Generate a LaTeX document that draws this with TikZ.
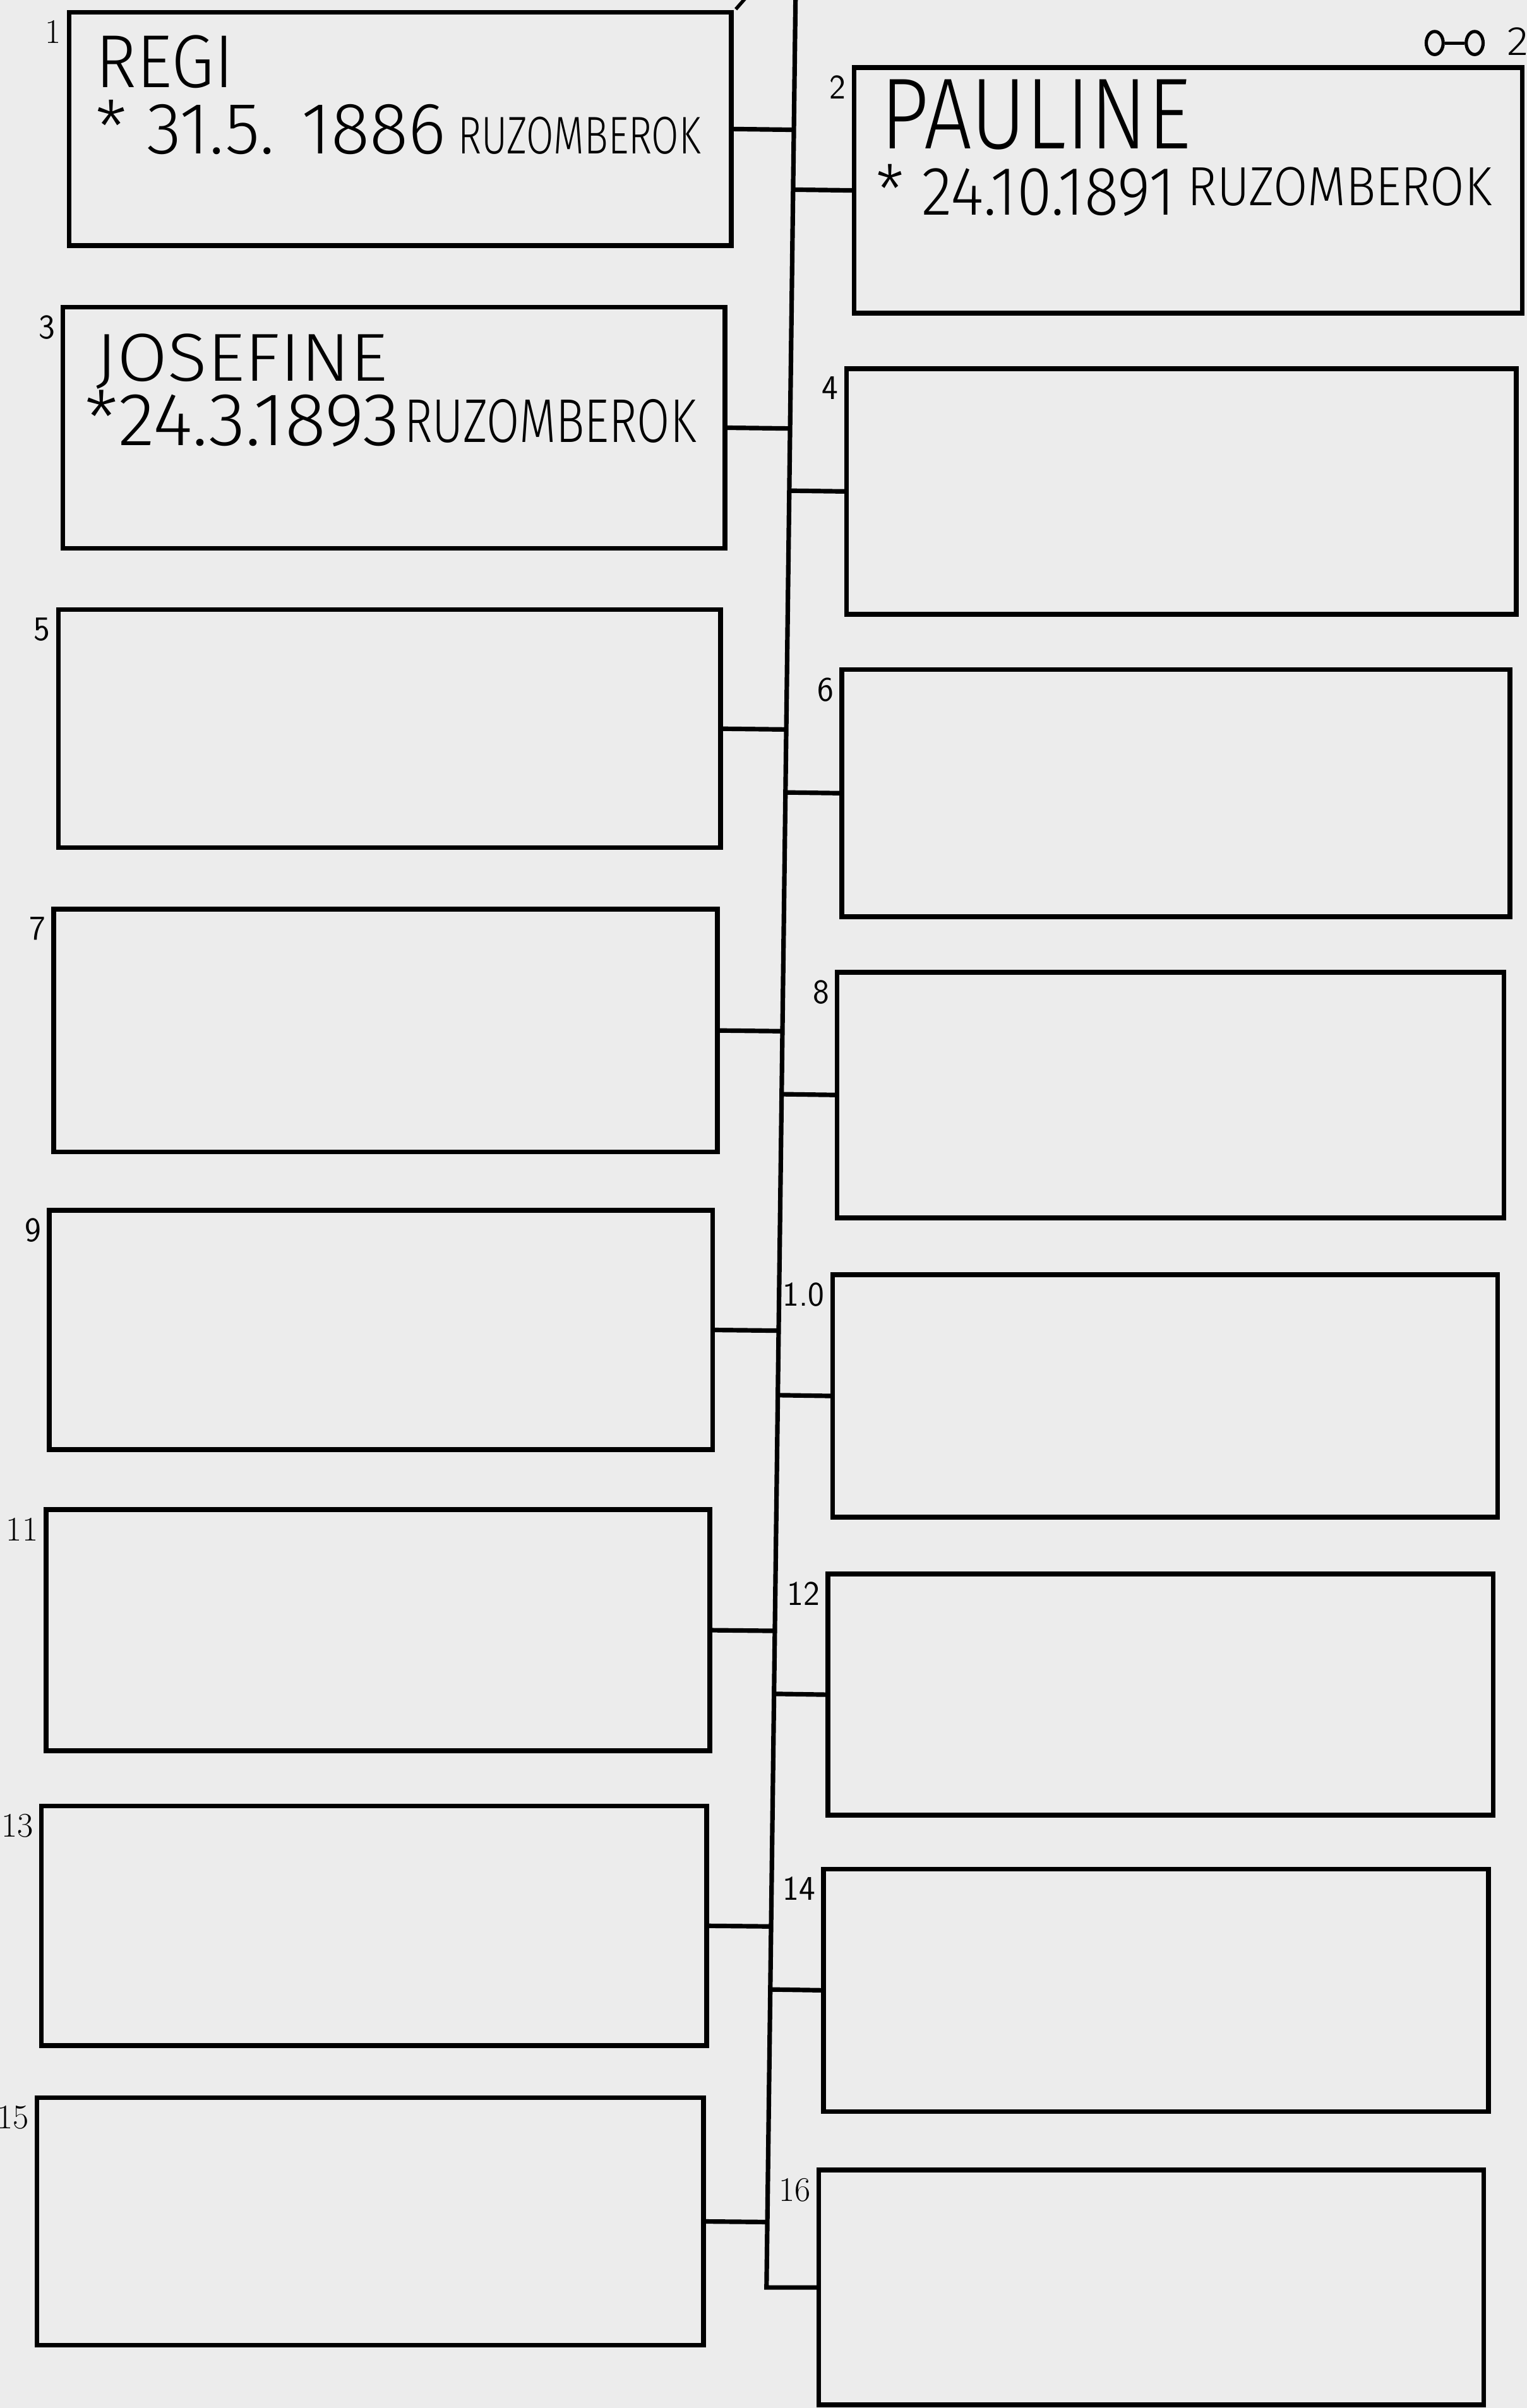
\documentclass[tikz,border=0pt]{standalone}
\usepackage{fontspec}
\usepackage{graphicx}
\newfontfamily\handfont{Fira Sans}[UprightFont={* Light}]
\usetikzlibrary{calc,shapes.geometric}
\definecolor{paper}{RGB}{236,236,236}
\newlength\hwu
\setlength\hwu{0.025cm}
\newcommand\twolines[3]{\vtop{\baselineskip=#1\lineskiplimit=-100pt\lineskip=0pt\hbox{#2}\hbox{#3}}}
\begin{document}
\begin{tikzpicture}[x=0.025cm,y=-0.025cm,
  famb/.style 2 args={draw=black, line width=2.2pt, minimum width=#1*0.025cm, minimum height=#2*0.025cm, inner sep=0pt, outer sep=0pt},
  num/.style={font=\fontsize{16}{18}\selectfont, inner sep=0pt, anchor=north east},
  link/.style={draw=black, line width=2.1pt},
  hw/.style={inner sep=0pt, anchor=base west, font=\handfont\fontsize{30}{30}\selectfont},
  ring/.style={ellipse, draw=black, line width=1.5pt, minimum width=11*0.025cm, minimum height=15*0.025cm, inner sep=0pt}]
\fill[paper] (0,0) rectangle (994,1568);
\useasboundingbox (0,0) rectangle (994,1568);

% left column
\node[famb={431}{152}] (b1) at (260.5,84) {};
\node[famb={431}{157}] (b3) at (256.5,278.5) {};
\node[famb={431}{155}] (b5) at (253.5,474.5) {};
\node[famb={432}{158}] (b7) at (251,671) {};
\node[famb={432}{156}] (b9) at (248,866) {};
\node[famb={432}{157}] (b11) at (246,1061.5) {};
\node[famb={433}{156}] (b13) at (243.5,1254) {};
\node[famb={434}{161}] (b15) at (241,1446.5) {};
% right column
\node[famb={435}{160}] (b2) at (773.5,124) {};
\node[famb={436}{160}] (b4) at (769,320) {};
\node[famb={435}{161}] (b6) at (765.5,516.5) {};
\node[famb={434}{160}] (b8) at (762,713) {};
\node[famb={433}{158}] (b10) at (758.5,909) {};
\node[famb={433}{157}] (b12) at (755.5,1103.5) {};
\node[famb={433}{158}] (b14) at (752.5,1296) {};
\node[famb={433}{153}] (b16) at (749.5,1489.5) {};

% trunk
\coordinate (tt) at (518,-10);
\coordinate (tb) at (499,1489.5);
\draw[link] (tt) -- (tb) -- (b16.west);
\foreach \b in {b1,b3,b5,b7,b9,b11,b13,b15}
  \draw[link] (\b.east) -- ($(tt)!(\b.east)!(tb)$);
\foreach \b in {b2,b4,b6,b8,b10,b12,b14}
  \draw[link] ($(tt)!(\b.west)!(tb)$) -- (\b.west);

% small stroke above box 1
\coordinate (tk) at ([shift={(3,-2)}]b1.north east);
\draw[line width=1.6pt] (tk) -- ++(7,-8);

% numbers
\foreach \n/\t/\f in {1/1/\rmfamily,2/2/\sffamily,3/3/\sffamily,4/4/\sffamily,5/5/\sffamily,6/6/\sffamily,7/7/\sffamily,8/8/\sffamily,9/9/\sffamily,10/1.0/\sffamily,11/11/\rmfamily,12/12/\sffamily,13/13/\rmfamily,14/14/\sffamily,15/15/\rmfamily,16/16/\rmfamily}
  \node[num] (l\n) at ([shift={(-5,5)}]b\n.north west) {\f\t};

% handwritten entries
\node[hw] (e1) at (62,57) {\twolines{43\hwu}{\resizebox{90\hwu}{34\hwu}{REGI}}{\resizebox{228\hwu}{35\hwu}{* 31.5. 1886}\hspace{8\hwu}\resizebox{158\hwu}{24\hwu}{RUZOMBEROK}}};

\node[hw] (e2) at (573,97) {\twolines{43\hwu}{\resizebox{202\hwu}{45\hwu}{PAULINE}}{\hspace{-3\hwu}\resizebox{195\hwu}{33\hwu}{* 24.10.1891}\hspace{8\hwu}\raisebox{6\hwu}{\resizebox{198\hwu}{25\hwu}{RUZOMBEROK}}}};

\node[hw] (e3) at (62,248) {\twolines{42\hwu}{\resizebox*{190\hwu}{36\hwu}{JOSEFINE}}{\hspace{-7\hwu}\resizebox{205\hwu}{36\hwu}{*24.3.1893}\hspace{3\hwu}\raisebox{2\hwu}{\resizebox{190\hwu}{28\hwu}{RUZOMBEROK}}}};

% partnership sign at top right
\node[ring] (r1) at (934,28) {};
\node[ring] (r2) at (960,28) {};
\draw[line width=1.5pt] (r1) -- (r2);
\node[hw] (two) at (981,36) {\resizebox{14\hwu}{18\hwu}{2}};
\end{tikzpicture}
\end{document}
